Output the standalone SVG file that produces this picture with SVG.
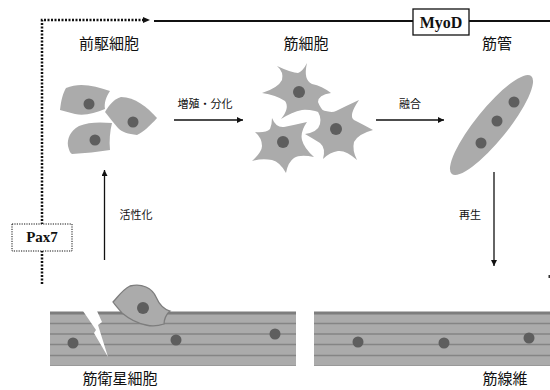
<svg xmlns="http://www.w3.org/2000/svg" width="550" height="390" viewBox="0 0 550 390">
  <style>
    .jp { font-family: "Noto Sans CJK JP", "Noto Sans", sans-serif; fill: #111; }
    .lbl { font-size: 15px; text-anchor: middle; }
    .small { font-size: 11px; text-anchor: middle; }
    .gene { font-family: "Liberation Serif", serif; font-weight: bold; text-anchor: middle; fill: #111; }
    .cell { fill: #ababab; }
    .nuc { fill: #5e5e5e; }
    .fiber { fill: #ababab; }
    .fline { stroke: #858585; stroke-width: 1.6; }
    .arrow { stroke: #111; stroke-width: 1.3; fill: none; }
    .dot { stroke: #111; stroke-width: 2.5; stroke-dasharray: 2 1.5; fill: none; }
  </style>
  <defs>
    <marker id="ah" viewBox="0 0 10 10" refX="10" refY="5" markerWidth="6" markerHeight="6" markerUnits="userSpaceOnUse" orient="auto">
      <path d="M0,0 L10,5 L0,10 z" fill="#111"/>
    </marker>
  </defs>

  <rect width="550" height="390" fill="#fff"/>

  <!-- connectors -->
  <g id="connectors">
    <!-- Pax7 pathway (dotted) up to the top line -->
    <path class="dot" d="M42,284 V20 H143"/>
    <path d="M143,17 L150,20 L143,23 z" fill="#111"/>
    <!-- MyoD line -->
    <line x1="154" y1="21" x2="550" y2="21" stroke="#111" stroke-width="2"/>
    <!-- proliferation / differentiation -->
    <line class="arrow" x1="174" y1="120" x2="243" y2="120" marker-end="url(#ah)"/>
    <!-- fusion -->
    <line class="arrow" x1="376" y1="120" x2="444" y2="120" marker-end="url(#ah)"/>
    <!-- activation -->
    <line class="arrow" x1="104.5" y1="260" x2="104.5" y2="170" marker-end="url(#ah)"/>
    <!-- regeneration -->
    <line class="arrow" x1="494" y1="172" x2="494" y2="266" marker-end="url(#ah)"/>
    <rect x="548.5" y="275" width="1.5" height="3" fill="#333"/>
  </g>

  <g id="pax7">
    <rect x="12" y="224" width="60" height="27" fill="#fff" stroke="#111" stroke-width="1" stroke-dasharray="1.2 1.2"/>
    <text class="gene" x="42" y="242" font-size="15">Pax7</text>
  </g>

  <g id="myod">
    <rect x="413" y="9" width="56" height="26" fill="#fff" stroke="#111" stroke-width="1.3"/>
    <text class="gene" x="441" y="28" font-size="16">MyoD</text>
  </g>

  <!-- progenitor cells -->
  <g id="progenitor">
    <path class="cell" d="M60,110 C61,100 63,93 66,88 C80,82 95,86 110,91 C106,97 104,103 105,109 C95,113 85,116 75,114 Z"/>
    <circle class="nuc" cx="89" cy="104" r="5.5"/>
    <path class="cell" d="M105,112 C109,105 114,99 121,97 C135,97 147,107 157,118 C150,126 143,132 137,135 C128,134 122,132 118,128 C113,122 109,117 105,112 Z"/>
    <circle class="nuc" cx="133" cy="122" r="5.5"/>
    <path class="cell" d="M112,123 C100,122 88,122 79,126 C70,131 67,139 68,146 C69,150 70,153 72,154 C85,153 98,152 110,150 C109,141 110,131 112,123 Z"/>
    <circle class="nuc" cx="95" cy="140" r="5.5"/>
    <text class="jp lbl" x="109" y="49">前駆細胞</text>
  </g>

  <!-- myoblasts -->
  <g id="myoblast">
    <path class="cell" d="M307,63 Q303,80 312,84 Q322,86 331,93 Q318,95 318,102 Q320,108 327,115 Q312,109 302,110 Q292,112 281,119 Q290,108 285,101 Q276,95 262,93 Q278,88 282,80 Q284,72 277,66 Q292,73 298,73 Q303,71 307,63 Z"/>
    <circle class="nuc" cx="299" cy="92" r="6"/>
    <path class="cell" d="M359,100 Q348,116 354,120 Q362,124 373,130 Q358,134 354,142 Q352,150 357,160 Q346,150 338,151 Q330,152 323,159 Q326,148 320,143 Q312,138 305,134 Q318,132 320,124 Q322,116 315,107 Q330,114 336,111 Q346,106 359,100 Z"/>
    <circle class="nuc" cx="336" cy="129" r="6"/>
    <path class="cell" d="M272,118 Q276,128 284,127 Q294,125 307,122 Q300,132 302,140 Q304,148 314,157 Q300,154 294,158 Q288,162 286,173 Q280,162 272,160 Q262,158 252,161 Q262,152 262,146 Q262,138 255,132 Q266,133 270,129 Q272,124 272,118 Z"/>
    <circle class="nuc" cx="283" cy="142" r="6"/>
    <text class="jp lbl" x="306" y="49">筋細胞</text>
  </g>

  <!-- myotube -->
  <g id="myotube">
    <ellipse class="cell" cx="491.5" cy="125" rx="63" ry="16" transform="rotate(-51 491.5 125)"/>
    <circle class="nuc" cx="514" cy="102" r="5.5"/>
    <circle class="nuc" cx="497" cy="121" r="5.5"/>
    <circle class="nuc" cx="481" cy="143" r="5.5"/>
    <text class="jp lbl" x="497" y="49">筋管</text>
  </g>

  <!-- arrow labels -->
  <g id="labels">
    <text class="jp small" x="205" y="108">増殖・分化</text>
    <text class="jp small" x="410" y="108">融合</text>
    <text class="jp small" x="136" y="219">活性化</text>
    <text class="jp small" x="470" y="219">再生</text>
  </g>

  <!-- damaged fiber with satellite cell -->
  <g id="satellite">
    <rect class="fiber" x="50" y="312" width="246" height="54"/>
    <line x1="50" y1="313" x2="296" y2="313" stroke="#7d7d7d" stroke-width="3"/>
    <line class="fline" x1="50" y1="323.5" x2="296" y2="323.5"/>
    <line class="fline" x1="50" y1="334" x2="296" y2="334"/>
    <line class="fline" x1="50" y1="344.5" x2="296" y2="344.5"/>
    <line class="fline" x1="50" y1="355.5" x2="296" y2="355.5"/>
    <line x1="50" y1="365.5" x2="296" y2="365.5" stroke="#999" stroke-width="1"/>
    <!-- injury -->
    <path d="M83,311 L97,311 L102,322 L98,325 L108,357 L94,333 L96,330 Z" fill="#fff"/>
    <circle class="nuc" cx="73" cy="343" r="5.5"/>
    <circle class="nuc" cx="176" cy="340" r="5.5"/>
    <circle class="nuc" cx="275" cy="334" r="5.5"/>
    <!-- satellite cell -->
    <path d="M113,302 C118,297 122,290 130,286 C142,283 152,288 156,297 C159,304 163,309 170,311 C166,314 164,320 164,324 C158,326 150,326 146,325 C136,323 128,318 122,313 C118,308 115,305 113,302 Z" fill="#ababab" stroke="#7d7d7d" stroke-width="1.3"/>
    <circle class="nuc" cx="143" cy="308" r="6"/>
    <text class="jp lbl" x="120" y="384">筋衛星細胞</text>
  </g>

  <!-- regenerated fiber -->
  <g id="fiber">
    <rect class="fiber" x="314" y="312" width="236" height="54"/>
    <line x1="314" y1="313" x2="550" y2="313" stroke="#7d7d7d" stroke-width="3"/>
    <line class="fline" x1="314" y1="323.5" x2="550" y2="323.5"/>
    <line class="fline" x1="314" y1="334" x2="550" y2="334"/>
    <line class="fline" x1="314" y1="344.5" x2="550" y2="344.5"/>
    <line class="fline" x1="314" y1="355.5" x2="550" y2="355.5"/>
    <line x1="314" y1="365.5" x2="550" y2="365.5" stroke="#999" stroke-width="1"/>
    <circle class="nuc" cx="358" cy="342" r="5.5"/>
    <circle class="nuc" cx="444" cy="343" r="5.5"/>
    <circle class="nuc" cx="529" cy="338" r="5.5"/>
    <text class="jp lbl" x="505" y="384">筋線維</text>
  </g>
</svg>
